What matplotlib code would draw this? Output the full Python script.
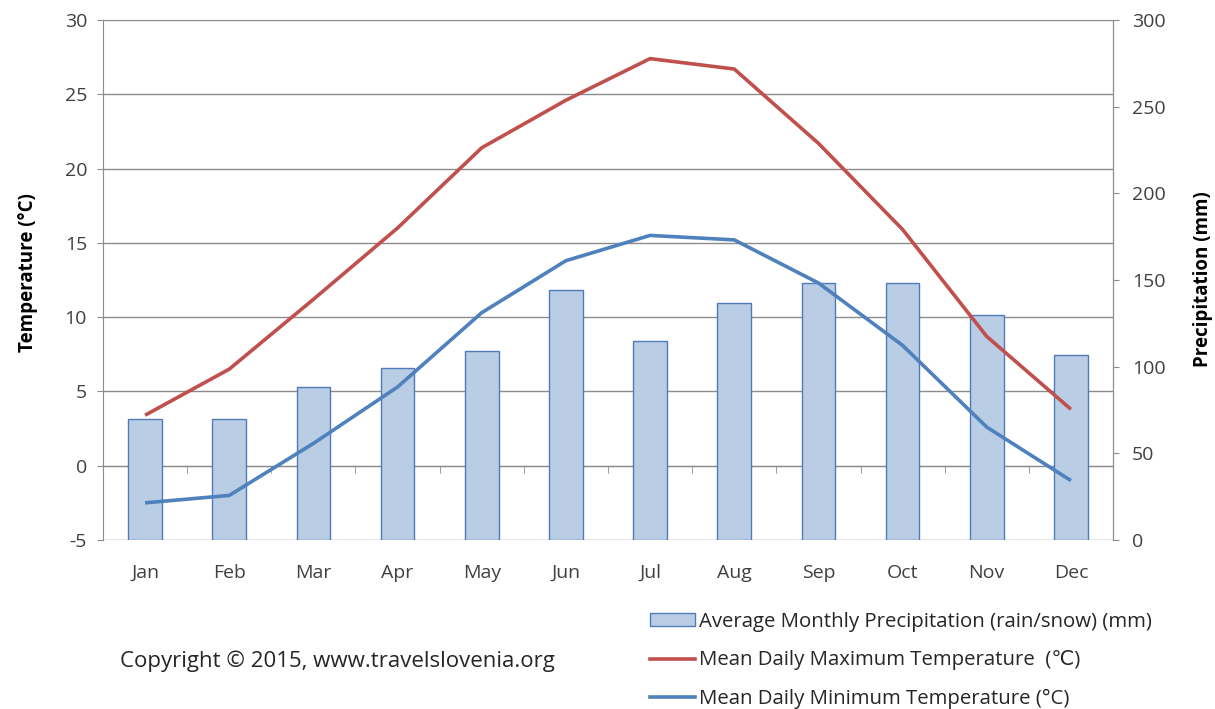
import matplotlib
matplotlib.use("Agg")
import matplotlib.pyplot as plt
from matplotlib.patches import Patch
from matplotlib.lines import Line2D

plt.rcParams['font.family'] = ['Open Sans', 'DejaVu Sans']
plt.rcParams['axes.unicode_minus'] = False

months = ["Jan", "Feb", "Mar", "Apr", "May", "Jun", "Jul", "Aug", "Sep", "Oct", "Nov", "Dec"]
precip_mm = [70, 70, 88, 99, 109, 144, 115, 137, 148, 148, 130, 107]
temp_max = [3.4, 6.5, 11.2, 16.0, 21.4, 24.6, 27.4, 26.7, 21.7, 15.9, 8.7, 3.8]
temp_min = [-2.5, -2.0, 1.5, 5.3, 10.3, 13.8, 15.5, 15.2, 12.3, 8.1, 2.6, -1.0]

temp_ticks = [-5, 0, 5, 10, 15, 20, 25, 30]
precip_ticks = [0, 50, 100, 150, 200, 250, 300]

BAR_FACE = "#B9CDE5"
BAR_EDGE = "#4F7BBA"
RED = "#C0504D"
BLUE = "#4F81BD"
GRID = "#8C8C8C"
TXT = "#404040"

fig = plt.figure(figsize=(12.15, 7.09), dpi=100)
W, H = 1215, 709
left, right, top, bottom = 103, 1113, 20, 540
ax = fig.add_axes([left / W, 1 - bottom / H, (right - left) / W, (bottom - top) / H])
x = list(range(len(months)))

# --- temperature axes: gridlines, left ticks, 0-line with category ticks
ax.set_xlim(-0.5, 11.5)
ax.set_ylim(-5, 30)
ax.set_yticks(temp_ticks)
ax.grid(axis='y', color=GRID, linewidth=1.0, zorder=0)
ax.set_axisbelow(True)
ax.set_xticks(x)
ax.set_xticklabels(months)
ax.set_xticks([i + 0.5 for i in range(11)], minor=True)
ax.spines['bottom'].set_position(('data', 0))
ax.spines['bottom'].set_color(GRID)
ax.spines['top'].set_visible(False)
ax.spines['left'].set_color(GRID)
ax.spines['right'].set_color(GRID)
ax.tick_params(axis='x', which='major', length=0, labelbottom=False)
ax.tick_params(axis='x', which='minor', length=5, color=GRID, direction='out')
ax.tick_params(axis='y', which='major', length=4.5, color=GRID, labelsize=14,
               labelcolor=TXT, pad=7, direction='out')

# --- precipitation axes: bars, right ticks, month labels at the bottom
ax2 = ax.twinx()
ax2.set_ylim(0, 300)
ax2.set_yticks(precip_ticks)
ax2.yaxis.tick_right()
ax2.bar(x, precip_mm, width=0.40, color=BAR_FACE, edgecolor=BAR_EDGE, linewidth=1.0, zorder=2)
ax2.xaxis.set_visible(True)
ax2.tick_params(axis='x', which='both', length=0, pad=17, labelsize=14, labelcolor=TXT,
                labelbottom=True)
for s in ['top', 'bottom', 'left']:
    ax2.spines[s].set_visible(False)
ax2.spines['right'].set_color(GRID)
ax2.tick_params(axis='y', which='major', length=4.5, color=GRID, labelsize=14,
                labelcolor=TXT, pad=9, direction='out')

# --- temperature lines on top of the bars
ax3 = ax.twinx()
ax3.set_ylim(ax.get_ylim())
ax3.plot(x, temp_max, color=RED, linewidth=2.6, solid_capstyle='butt', zorder=3)
ax3.plot(x, temp_min, color=BLUE, linewidth=2.6, solid_capstyle='butt', zorder=3)
ax3.set_axis_off()

# axis titles
fig.text(28 / W, 1 - 273 / H, "Temperature (°C)", rotation=90, ha='center', va='center',
         fontsize=13.5, fontweight='bold', color='black')
fig.text(1203 / W, 1 - 279 / H, "Precipitation (mm)", rotation=90, ha='center', va='center',
         fontsize=13.5, fontweight='bold', color='black')

# legend
handles = [
    Patch(facecolor=BAR_FACE, edgecolor=BAR_EDGE, linewidth=1.0),
    Line2D([], [], color=RED, linewidth=2.6),
    Line2D([], [], color=BLUE, linewidth=2.6),
]
labels = [
    "Average Monthly Precipitation (rain/snow) (mm)",
    "Mean Daily Maximum Temperature  (℃)",
    "Mean Daily Minimum Temperature (°C)",
]
leg = fig.legend(handles, labels, loc='upper left', bbox_to_anchor=(650 / W, 1 - 612 / H),
                 frameon=False, fontsize=14.7, handlelength=2.2, handleheight=0.6,
                 handletextpad=0.2, labelspacing=0.9, borderpad=0, borderaxespad=0)
for t in leg.get_texts():
    t.set_color("#262626")

fig.text(120 / W, 1 - 661 / H, "Copyright © 2015, www.travelslovenia.org",
         fontsize=16, color="#262626", ha='left', va='center')

fig.savefig("out.png", dpi=100)
